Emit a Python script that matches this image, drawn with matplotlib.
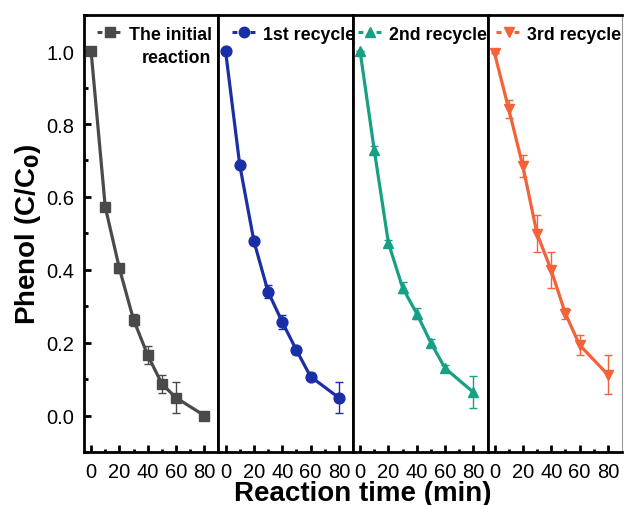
import numpy as np
import matplotlib.pyplot as plt
from matplotlib.lines import Line2D
from matplotlib.ticker import MultipleLocator, FixedLocator

plt.rcParams['font.family'] = ['Liberation Sans', 'DejaVu Sans']
plt.rcParams['lines.scale_dashes'] = False

# reaction time (min)
time = [0, 10, 20, 30, 40, 50, 60, 80]

# first legend label is written on two lines
labels = [["The initial", "reaction"], ["1st recycle"], ["2nd recycle"], ["3rd recycle"]]

initial = [1.0, 0.573, 0.404, 0.263, 0.166, 0.087, 0.049, 0.0]
initial_err = [0.0, 0.010, 0.013, 0.017, 0.025, 0.025, 0.042, 0.0]

recycle1 = [1.0, 0.688, 0.479, 0.340, 0.257, 0.180, 0.107, 0.049]
recycle1_err = [0.0, 0.010, 0.008, 0.018, 0.020, 0.012, 0.010, 0.043]

recycle2 = [1.0, 0.729, 0.474, 0.351, 0.280, 0.200, 0.130, 0.064]
recycle2_err = [0.0, 0.010, 0.008, 0.015, 0.015, 0.010, 0.010, 0.044]

recycle3 = [0.994, 0.841, 0.684, 0.499, 0.399, 0.280, 0.194, 0.112]
recycle3_err = [0.0, 0.025, 0.030, 0.050, 0.050, 0.015, 0.028, 0.053]

series = [initial, recycle1, recycle2, recycle3]
errors = [initial_err, recycle1_err, recycle2_err, recycle3_err]
colors = ['#4a4a4a', '#1a2fa6', '#17a084', '#f4623a']
markers = ['s', 'o', '^', 'v']
legend_x = [0.10, 0.10, 0.035, 0.065]

fig = plt.figure(figsize=(6.24, 5.06), dpi=100)
fig.subplots_adjust(left=0.1346, right=0.9968, bottom=0.1047, top=0.969, wspace=0)
axes = fig.subplots(1, 4, sharey=True)

legends = []
for i, ax in enumerate(axes):
    ax.errorbar(time, series[i], yerr=errors[i], color=colors[i], marker=markers[i],
                markersize=7.8, linewidth=2.3, elinewidth=1, capsize=3, capthick=1,
                ecolor=colors[i], zorder=3)
    ax.set_xlim(-5, 90)
    ax.set_ylim(-0.1, 1.1)
    for s in ax.spines.values():
        s.set_linewidth(2)
    ax.xaxis.set_major_locator(FixedLocator([0, 20, 40, 60, 80]))
    ax.xaxis.set_minor_locator(FixedLocator([10, 30, 50, 70]))
    ax.tick_params(axis='x', which='major', direction='in', length=5, width=2,
                   labelsize=14.5, pad=7)
    ax.tick_params(axis='x', which='minor', direction='in', length=2.5, width=2)
    if i == 0:
        ax.yaxis.set_major_locator(MultipleLocator(0.2))
        ax.yaxis.set_minor_locator(MultipleLocator(0.1))
        ax.tick_params(axis='y', which='major', direction='in', length=5, width=2,
                       labelsize=14.5, pad=7)
        ax.tick_params(axis='y', which='minor', direction='in', length=3, width=2)
    else:
        ax.tick_params(axis='y', which='both', left=False, labelleft=False)

    handle = Line2D([], [], color=colors[i], marker=markers[i], markersize=7.5,
                    linewidth=2.2, dashes=[3.5, 9.5])
    leg = ax.legend([handle], [labels[i][0]], loc='upper left',
                    bbox_to_anchor=(legend_x[i], 0.975), frameon=False,
                    borderpad=0, borderaxespad=0, handlelength=1.4,
                    handletextpad=0.35, prop={'weight': 'bold', 'size': 12.8})
    legends.append(leg)

# second line of the first label, right-aligned under the first line
fig.canvas.draw()
bb = legends[0].get_texts()[0].get_window_extent()
x1, yc = fig.transFigure.inverted().transform((bb.x1, (bb.y0 + bb.y1) / 2))
fig.text(x1, yc - 23 / 506, labels[0][1], fontsize=12.8, fontweight='bold',
         ha='right', va='center')

axes[-1].spines['right'].set_color('#999999')
axes[-1].spines['right'].set_linewidth(0.8)

axes[0].set_ylabel('Phenol (C/C$_\\mathbf{0}$)', fontsize=20, fontweight='bold', labelpad=2)
fig.text(0.582, 0.024, 'Reaction time (min)', fontsize=20, fontweight='bold',
         ha='center', va='center')

fig.savefig('out.png', dpi=100)
